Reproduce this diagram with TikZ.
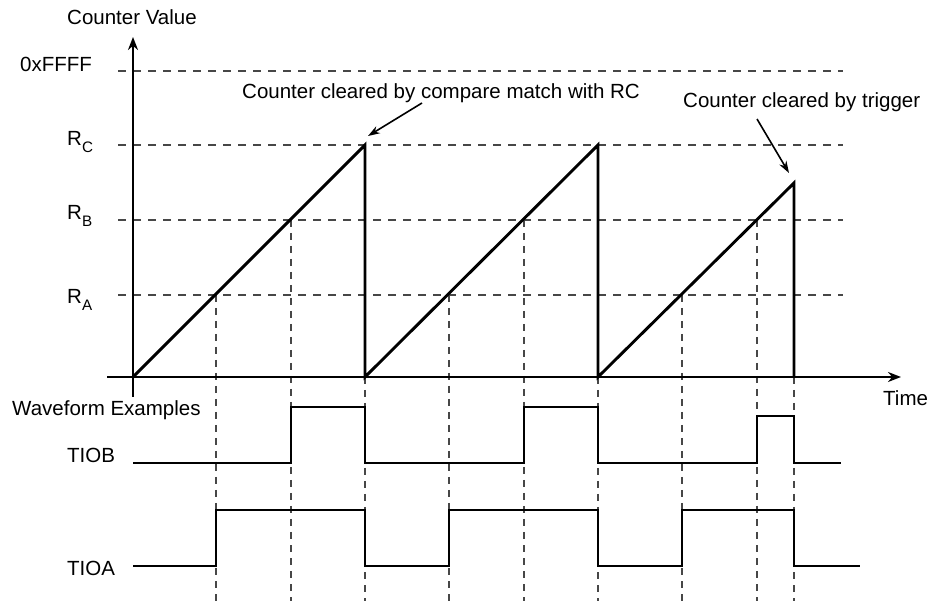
\documentclass[tikz,border=0pt]{standalone}
\usepackage{fontspec}
\setmainfont{Liberation Sans}
\usetikzlibrary{arrows.meta}
\newcommand\rsubx[1]{\raisebox{-0.3em}{\fontsize{15.2}{15}\selectfont #1}}
\begin{document}
\begin{tikzpicture}[x=1pt,y=-1pt,
  lbl/.style={anchor=base west,inner sep=0pt,font=\fontsize{20.5}{24}\selectfont},
  axisline/.style={line width=2.9pt,-{Stealth[length=13pt,width=10pt]}},
  hgrid/.style={line width=1.8pt,black!72,dash pattern=on 8pt off 7pt},
  vgrid/.style={line width=1.7pt,black!72,dash pattern=on 7pt off 6pt},
  wave/.style={line width=2.9pt,line join=miter},
  note/.style={line width=1.6pt,-{Stealth[length=12pt,width=8pt]}}]
\useasboundingbox (0,0) rectangle (927,601);

% labels
\node[lbl] (cv) at (67,25) {Counter Value};
\node[lbl] (ff) at (20,72) {0xFFFF};
\node[lbl] (rc) at (67,146) {R\rsubx{C}};
\node[lbl] (rb) at (67,220) {R\rsubx{B}};
\node[lbl] (ra) at (67,304) {R\rsubx{A}};
\node[lbl] (n1) at (242,99) {Counter cleared by compare match with RC};
\node[lbl] (n2) at (683,108) {Counter cleared by trigger};
\node[lbl] (tm) at (883,406) {Time};
\node[lbl] (we) at (12,416) {Waveform Examples};
\node[lbl] (tb) at (67,463) {TIOB};
\node[lbl] (ta) at (67,575) {TIOA};

% horizontal dashed levels
\draw[hgrid] (118,71) -- (843,71);
\draw[hgrid] (118,145) -- (843,145);
\draw[hgrid] (118,220) -- (843,220);
\draw[hgrid] (118,295) -- (843,295);

% vertical dashed lines
\foreach \x/\y in {216/295,291/220,365/377,449/295,524/220,598/377,682/295,757/220,794/377}
  \draw[vgrid] (\x,\y) -- (\x,601);

% axes
\coordinate (O) at (133,377);
\draw[axisline] (133,397) -- (133,37);
\draw[axisline] (107,377) -- (901,377);

% ramps
\coordinate (T1) at (365,145);
\coordinate (T2) at (598,145);
\coordinate (T3) at (794,183);
\draw[wave] (O) -- (T1) -- (365,377) -- (T2) -- (598,377) -- (T3) -- (794,377);

% annotation arrows
\coordinate (a1s) at (422,103);
\coordinate (a1e) at (368,136);
\coordinate (a2s) at (757,119);
\coordinate (a2e) at (789,173);
\draw[note] (a1s) -- (a1e);
\draw[note] (a2s) -- (a2e);

% TIOB
\draw[wave] (133,463) -- (291,463) -- (291,407) -- (365,407) -- (365,463)
  -- (524,463) -- (524,407) -- (598,407) -- (598,463)
  -- (757,463) -- (757,416) -- (794,416) -- (794,463) -- (841,463);

% TIOA
\draw[wave] (133,566) -- (216,566) -- (216,510) -- (365,510) -- (365,566)
  -- (449,566) -- (449,510) -- (598,510) -- (598,566)
  -- (682,566) -- (682,510) -- (794,510) -- (794,566) -- (860,566);
\end{tikzpicture}
\end{document}
